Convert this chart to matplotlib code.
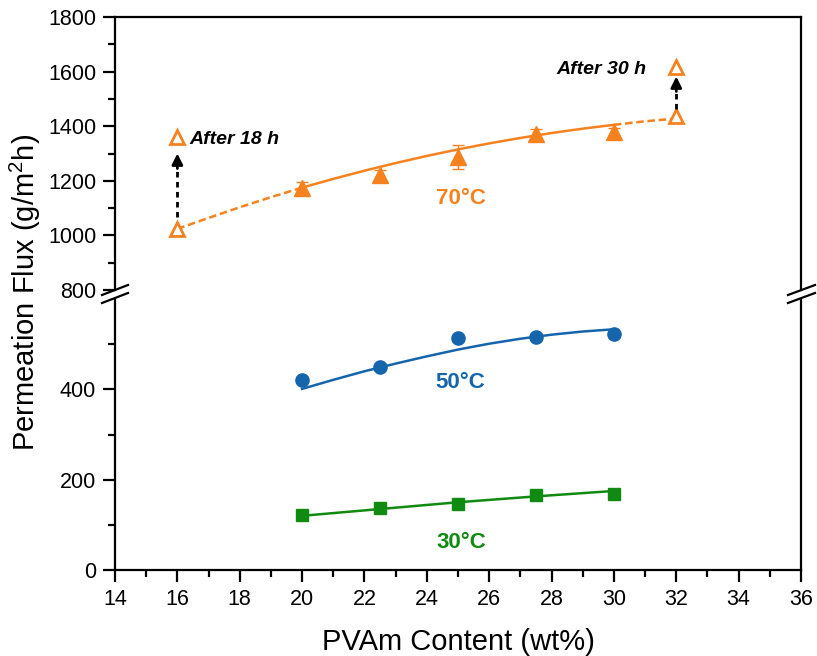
import matplotlib.pyplot as plt
from matplotlib.lines import Line2D
from matplotlib.ticker import MultipleLocator, FixedLocator

plt.rcParams['font.family'] = ['Liberation Sans', 'DejaVu Sans']
plt.rcParams['mathtext.fontset'] = 'custom'
plt.rcParams['mathtext.rm'] = 'Liberation Sans'
plt.rcParams['mathtext.it'] = 'Liberation Sans:italic'

# measured points (PVAm wt%, flux g/m2h)
pvam = [20, 22.5, 25, 27.5, 30]
flux_30 = [121, 138, 147, 166, 168]
flux_50 = [420, 450, 513, 515, 522]
flux_70 = [1172, 1220, 1287, 1371, 1378]
err_70 = [25, 20, 43, 20, 15]

# open triangles: fresh run and after long operation
pvam_open = [16, 32]
flux_70_start = [1022, 1436]
flux_70_after = [1360, 1617]
arrow_from = [1067, 1464]
arrow_to = [1300, 1582]
open_labels = ['After 18 h', 'After 30 h']

# trend curves
fit_x = [20, 22.5, 25, 27.5, 30]
fit_30 = [120, 135, 150, 163, 175]
fit50_x = [20, 21, 22, 23, 24, 25, 26, 27, 28, 29, 30]
fit_50 = [401, 421, 440, 457, 473, 488, 501, 512, 521, 528, 533]
fit70_x = [16, 17, 18, 19, 20, 21, 22, 23, 24, 25, 26, 27, 28, 29, 30, 31, 32]
fit_70 = [1024, 1064, 1103, 1140, 1175, 1207, 1237, 1265, 1291, 1315,
          1337, 1357, 1375, 1391, 1405, 1418, 1428]

c70 = '#F5821F'
c50 = '#1565AD'
c30 = '#118A11'

W, H = 817, 656
fig = plt.figure(figsize=(W / 100, H / 100), dpi=100)
left, width = 115 / W, 686 / W
ax_top = fig.add_axes([left, 1 - 290 / H, width, 273 / H])
ax_bot = fig.add_axes([left, 1 - 570 / H, width, 271 / H])

for ax in (ax_top, ax_bot):
    ax.set_xlim(14, 36)
    for s in ax.spines.values():
        s.set_linewidth(1.6)
    ax.tick_params(axis='both', which='major', direction='out', length=8.5,
                   width=1.6, labelsize=15.5, pad=5)
    ax.tick_params(axis='both', which='minor', direction='out', length=5, width=1.6)
    ax.tick_params(right=False, top=False, which='both')

ax_top.set_ylim(800, 1800)
ax_top.yaxis.set_major_locator(MultipleLocator(200))
ax_top.yaxis.set_minor_locator(MultipleLocator(100))
ax_top.spines['bottom'].set_visible(False)
ax_top.tick_params(axis='x', which='both', bottom=False, labelbottom=False)

ax_bot.set_ylim(0, 600)
ax_bot.yaxis.set_major_locator(FixedLocator([0, 200, 400]))
ax_bot.yaxis.set_minor_locator(FixedLocator([100, 300, 500]))
ax_bot.xaxis.set_major_locator(MultipleLocator(2))
ax_bot.xaxis.set_minor_locator(MultipleLocator(1))
ax_bot.spines['top'].set_visible(False)

# 30 and 50 C
ax_bot.plot(fit_x, fit_30, color=c30, lw=1.8)
ax_bot.plot(pvam, flux_30, 's', color=c30, ms=8.5)
ax_bot.plot(fit50_x, fit_50, color=c50, lw=1.8)
ax_bot.plot(pvam, flux_50, 'o', color=c50, ms=9.5)
ax_bot.text(25.1, 48, '30°C', color=c30, fontsize=16, fontweight='bold', ha='center', va='baseline')
ax_bot.text(25.06, 404, '50°C', color=c50, fontsize=16, fontweight='bold', ha='center', va='baseline')

# 70 C
dash = (0, (3, 1.5))
ax_top.plot(fit70_x[:5], fit_70[:5], color=c70, lw=1.8, ls=dash)
ax_top.plot(fit70_x[4:15], fit_70[4:15], color=c70, lw=1.8)
ax_top.plot(fit70_x[14:], fit_70[14:], color=c70, lw=1.8, ls=dash)
ax_top.errorbar(pvam, flux_70, yerr=err_70, fmt='^', color=c70, ms=11,
                elinewidth=1, capsize=4, capthick=1)
ax_top.plot(pvam_open, flux_70_start, '^', mfc='white', mec=c70, mew=2, ms=10.5)
ax_top.plot(pvam_open, flux_70_after, '^', mfc='white', mec=c70, mew=2, ms=10.5)
ax_top.text(25.1, 1114, '70°C', color=c70, fontsize=16, fontweight='bold', ha='center', va='baseline')

for xo, y0, y1 in zip(pvam_open, arrow_from, arrow_to):
    ax_top.plot([xo, xo], [y0, y1 - 50], color='black', lw=2, ls=(0, (2, 1.6)))
    ax_top.annotate('', xy=(xo, y1), xytext=(xo, y1 - 55),
                    arrowprops=dict(arrowstyle='-|>', color='black', lw=2,
                                    mutation_scale=16, shrinkA=0, shrinkB=0))

ax_top.text(16.4, 1336, open_labels[0], fontsize=14, fontweight='bold',
            fontstyle='italic', ha='left', va='baseline')
ax_top.text(31.05, 1593, open_labels[1], fontsize=14, fontweight='bold',
            fontstyle='italic', ha='right', va='baseline')

# axis break marks
for xa, xb in ((102, 128), (788, 815)):
    for ya, yb in ((295, 285), (303, 293)):
        fig.add_artist(Line2D([xa / W, xb / W], [1 - ya / H, 1 - yb / H],
                              transform=fig.transFigure, color='black', lw=1.6))

fig.text(25 / W, 1 - 292 / H, 'Permeation Flux (g/m$^2$h)', rotation=90,
         fontsize=21, ha='center', va='center')
fig.text(458 / W, 1 - 642 / H, 'PVAm Content (wt%)', fontsize=21,
         ha='center', va='center')

fig.savefig('out.png', dpi=100)
